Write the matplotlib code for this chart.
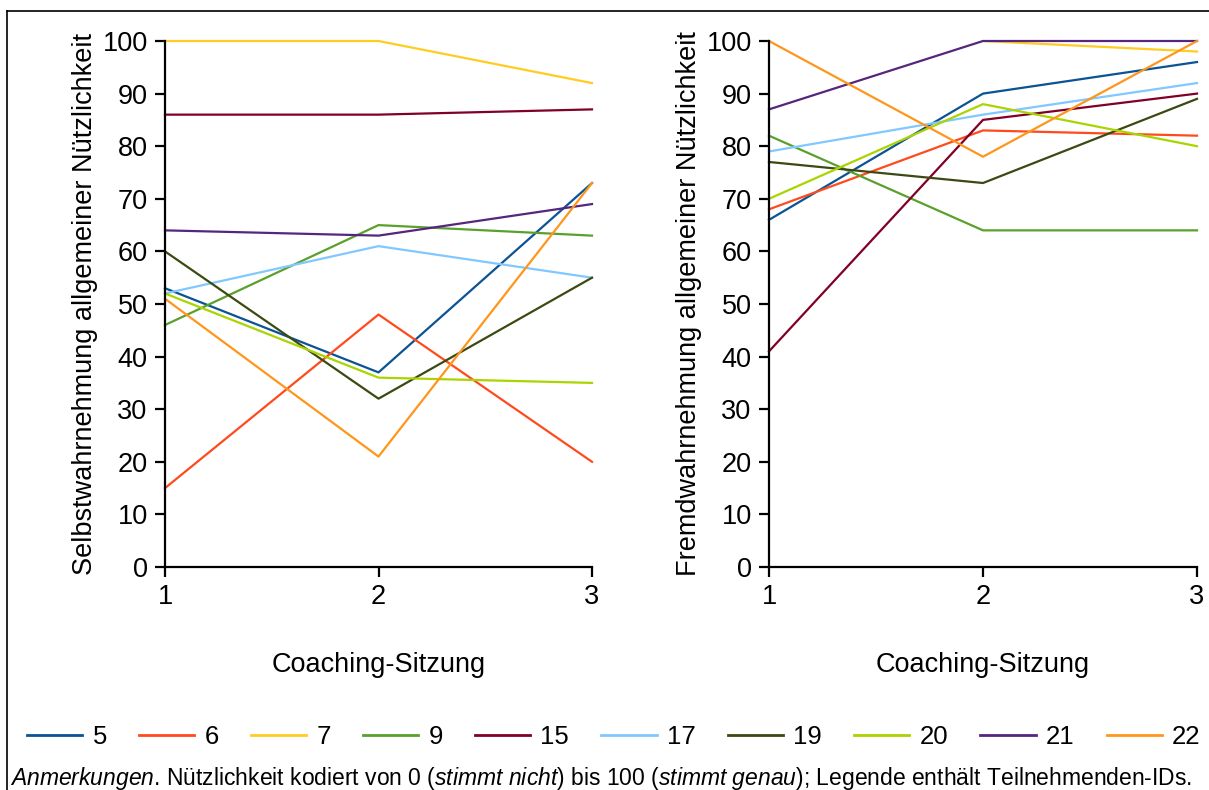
import matplotlib.pyplot as plt
import numpy as np
from matplotlib.lines import Line2D

plt.rcParams['font.family'] = ['Liberation Sans', 'DejaVu Sans']
plt.rcParams['mathtext.fontset'] = 'custom'
plt.rcParams['mathtext.rm'] = 'Liberation Sans'
plt.rcParams['mathtext.it'] = 'Liberation Sans:italic'

sessions = [1, 2, 3]
ids = ['5', '6', '7', '9', '15', '17', '19', '20', '21', '22']
colors = ['#0b5394', '#ff4a1c', '#ffcc22', '#5aa02c', '#800026',
          '#80c8ff', '#3b4a12', '#aad400', '#56267d', '#ff961c']

# Selbstwahrnehmung (left panel)
self_5 = [53, 37, 73]
self_6 = [15, 48, 20]
self_7 = [100, 100, 92]
self_9 = [46, 65, 63]
self_15 = [86, 86, 87]
self_17 = [52, 61, 55]
self_19 = [60, 32, 55]
self_20 = [52, 36, 35]
self_21 = [64, 63, 69]
self_22 = [51, 21, 73]

# Fremdwahrnehmung (right panel)
other_5 = [66, 90, 96]
other_6 = [68, 83, 82]
other_7 = [np.nan, 100, 98]
other_9 = [82, 64, 64]
other_15 = [41, 85, 90]
other_17 = [79, 86, 92]
other_19 = [77, 73, 89]
other_20 = [70, 88, 80]
other_21 = [87, 100, 100]
other_22 = [100, 78, 100]

self_series = [self_5, self_6, self_7, self_9, self_15,
               self_17, self_19, self_20, self_21, self_22]
other_series = [other_5, other_6, other_7, other_9, other_15,
                other_17, other_19, other_20, other_21, other_22]

FS = 19.5

fig = plt.figure(figsize=(12.09, 7.9), dpi=100)
W, H = 1209, 790


def px_axes(x0, x1, y0, y1):
    # pixel box -> figure fraction
    return fig.add_axes([x0 / W, 1 - y1 / H, (x1 - x0) / W, (y1 - y0) / H])


ax1 = px_axes(165, 592, 41, 567)
ax2 = px_axes(769, 1197, 41, 567)

for ax, series, ylabel in [
    (ax1, self_series, 'Selbstwahrnehmung allgemeiner Nützlichkeit'),
    (ax2, other_series, 'Fremdwahrnehmung allgemeiner Nützlichkeit'),
]:
    for vals, c in zip(series, colors):
        ax.plot(sessions, vals, color=c, lw=1.6, clip_on=False)
    ax.set_xlim(1, 3)
    ax.set_ylim(0, 100)
    ax.set_xticks(sessions)
    ax.set_yticks(range(0, 101, 10))
    for s in ['top', 'right']:
        ax.spines[s].set_visible(False)
    for s in ['left', 'bottom']:
        ax.spines[s].set_linewidth(1.6)
    ax.tick_params(direction='out', length=7.5, width=1.6, labelsize=FS, pad=5)
    ax.set_xlabel('Coaching-Sitzung', fontsize=FS, labelpad=30)
    ax.set_ylabel(ylabel, fontsize=FS, labelpad=3)

handles = [Line2D([], [], color=c, lw=2) for c in colors]
fig.legend(handles, ids, loc='center left', bbox_to_anchor=(27 / W, 1 - 737 / H),
           ncol=10, frameon=False, fontsize=18.5, handlelength=2.15,
           handletextpad=0.4, columnspacing=1.25, borderpad=0, borderaxespad=0)

fig.text(10 / W, 1 - 778 / H,
         r'$\mathit{Anmerkungen}$. Nützlichkeit kodiert von 0 ($\mathit{stimmt\ nicht}$) '
         r'bis 100 ($\mathit{stimmt\ genau}$); Legende enthält Teilnehmenden-IDs.',
         fontsize=16.5, va='center', ha='left')

# frame lines (top and left)
fig.add_artist(Line2D([7 / W, 1], [1 - 11 / H, 1 - 11 / H], color='black', lw=1.2))
fig.add_artist(Line2D([7 / W, 7 / W], [0, 1 - 11 / H], color='black', lw=1.2))

fig.savefig('out.png', dpi=100)
